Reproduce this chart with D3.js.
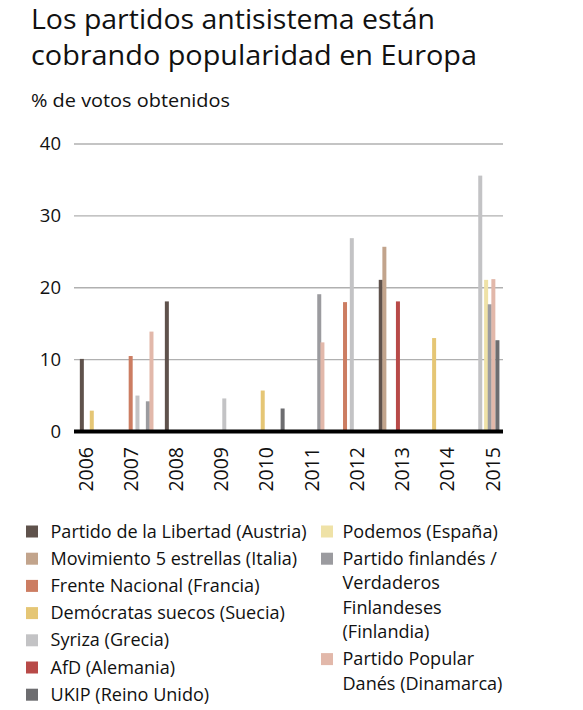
<!DOCTYPE html>
<html>
<head>
<meta charset="utf-8">
<script src="https://cdn.jsdelivr.net/npm/d3@7"></script>
<style>
html,body{margin:0;padding:0;background:#fff;}
svg{display:block;font-family:"Open Sans","Noto Sans",sans-serif;}
</style>
</head>
<body>
<svg id="chart" width="583" height="710"></svg>
<script>
// ---------- DATA ----------
const titleLines = ["Los partidos antisistema están", "cobrando popularidad en Europa"];
const subtitle = "% de votos obtenidos";
const yTicks = [0, 10, 20, 30, 40];
const years = [2006, 2007, 2008, 2009, 2010, 2011, 2012, 2013, 2014, 2015];

const parties = [
  "Partido de la Libertad (Austria)",
  "Movimiento 5 estrellas (Italia)",
  "Frente Nacional (Francia)",
  "Demócratas suecos (Suecia)",
  "Syriza (Grecia)",
  "AfD (Alemania)",
  "UKIP (Reino Unido)",
  "Podemos (España)",
  "Partido finlandés / Verdaderos Finlandeses (Finlandia)",
  "Partido Popular Danés (Dinamarca)"
];
const partyColors = ["#5f524c","#c2a48c","#cc7d62","#e5c675","#c3c3c5","#b84a48","#6d6d70","#efe2a7","#9b9b9f","#e2b8aa"];
const legendLines = [
  ["Partido de la Libertad (Austria)"],
  ["Movimiento 5 estrellas (Italia)"],
  ["Frente Nacional (Francia)"],
  ["Demócratas suecos (Suecia)"],
  ["Syriza (Grecia)"],
  ["AfD (Alemania)"],
  ["UKIP (Reino Unido)"],
  ["Podemos (España)"],
  ["Partido finlandés /", "Verdaderos", "Finlandeses", "(Finlandia)"],
  ["Partido Popular", "Danés (Dinamarca)"]
];

// election results: party index, date (fractional year), % of votes
const barParty = [0, 3, 2, 4, 8, 9, 0, 4, 3, 6, 8, 9, 2, 4, 0, 1, 5, 3, 4, 7, 8, 9, 6];
const barDate  = [2005.93, 2006.15, 2007.01, 2007.16, 2007.39, 2007.47, 2007.81, 2009.08, 2009.93, 2010.37,
                  2011.18, 2011.25, 2011.75, 2011.90, 2012.54, 2012.62, 2012.92, 2013.72,
                  2014.74, 2014.87, 2014.95, 2015.03, 2015.12];
const barValue = [10.1, 2.9, 10.5, 5.0, 4.2, 13.9, 18.1, 4.6, 5.7, 3.2,
                  19.1, 12.4, 18.0, 26.9, 21.1, 25.7, 18.1, 13.0,
                  35.6, 21.1, 17.7, 21.2, 12.7];

// ---------- LAYOUT ----------
const svg = d3.select("#chart");
const plotLeft = 74, plotRight = 503;
const x = d3.scaleLinear().domain([2006, 2015]).range([85, 492]);
const y = d3.scaleLinear().domain([0, 40]).range([431.5, 144]);

// draw text at a font size, horizontally condensed by ratio (to mimic a narrower face)
function condensed(parent, str, px, py, size, ratio) {
  const t = parent.append("text").attr("x", px).attr("y", py)
    .attr("font-size", size).attr("fill", "#111").text(str);
  const w = t.node().getComputedTextLength();
  t.attr("textLength", w * ratio).attr("lengthAdjust", "spacingAndGlyphs");
  return w;
}
function ratioFor(str, size, target) {
  const t = svg.append("text").attr("font-size", size).text(str);
  const w = t.node().getComputedTextLength();
  t.remove();
  return target / w;
}

// title
const titleSize = 27.5;
condensed(svg, titleLines[0], 31, 29, titleSize, ratioFor(titleLines[0], titleSize, 404));
condensed(svg, titleLines[1], 31, 65, titleSize, ratioFor(titleLines[1], titleSize, 446));

const subSize = 18.5;
condensed(svg, subtitle, 31, 107, subSize, ratioFor(subtitle, subSize, 199));

// gridlines
svg.append("g").selectAll("line").data(yTicks.filter(d => d > 0)).join("line")
  .attr("x1", plotLeft).attr("x2", plotRight)
  .attr("y1", d => y(d)).attr("y2", d => y(d))
  .attr("stroke", "#b0b0b0").attr("stroke-width", 1.4);

// y axis labels
const yAxis = d3.axisLeft(y).tickValues(yTicks).tickSize(0).tickPadding(0);
const ya = svg.append("g").attr("transform", "translate(61,0)").call(yAxis);
ya.select(".domain").remove();
ya.selectAll("text").attr("font-size", 18.5).attr("fill", "#111")
  .attr("font-family", "'Open Sans','Noto Sans',sans-serif").attr("x", 0);

// bars
const barW = 4;
svg.append("g").selectAll("rect").data(barValue.map((v, i) => i)).join("rect")
  .attr("x", i => x(barDate[i]) - barW / 2)
  .attr("width", barW)
  .attr("y", i => y(barValue[i]))
  .attr("height", i => y(0) - y(barValue[i]))
  .attr("fill", i => partyColors[barParty[i]]);

// baseline
svg.append("line").attr("x1", plotLeft).attr("x2", plotRight)
  .attr("y1", y(0)).attr("y2", y(0))
  .attr("stroke", "#000").attr("stroke-width", 4);

// x axis labels
const xAxis = d3.axisBottom(x).tickValues(years).tickFormat(d3.format("d")).tickSize(0).tickPadding(0);
const xa = svg.append("g").attr("transform", "translate(0,447)").call(xAxis);
xa.select(".domain").remove();
xa.selectAll("text")
  .attr("font-size", 19.5).attr("fill", "#111")
  .attr("font-family", "'Open Sans','Noto Sans',sans-serif")
  .attr("text-anchor", "end")
  .attr("transform", "rotate(-90)")
  .attr("x", 0).attr("y", 0).attr("dy", "0.36em");

// legend
const itemPitch = 27.2, linePitch = 24.4, sq = 12;
const legSize = 18;
const lr = ratioFor(legendLines[0][0], legSize, 256);
const lg = svg.append("g");

const leftItems = [0,1,2,3,4,5,6], rightItems = [7,8,9];
function drawColumn(items, sx, tx) {
  let base = 537.5;
  items.forEach(pi => {
    lg.append("rect").attr("x", sx).attr("y", base - sq).attr("width", sq).attr("height", sq)
      .attr("fill", partyColors[pi]);
    legendLines[pi].forEach((ln, k) => {
      condensed(lg, ln, tx, base + k * linePitch, legSize, lr);
    });
    base += (legendLines[pi].length - 1) * linePitch + itemPitch;
  });
}
drawColumn(leftItems, 26, 50.5);
drawColumn(rightItems, 321, 342.5);
</script>
</body>
</html>
